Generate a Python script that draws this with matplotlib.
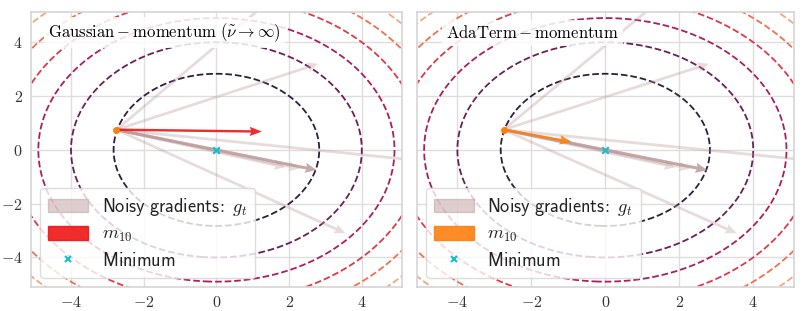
import numpy as np
import matplotlib
matplotlib.use("Agg")
import matplotlib.pyplot as plt
from matplotlib.patches import Patch
from matplotlib.lines import Line2D

plt.rcParams['mathtext.fontset'] = 'cm'

# starting point of all arrows
start = (-2.75, 0.75)

# end points of the noisy gradient arrows (same samples in both panels)
grad_end_x = [2.3, 2.8, 9.0, 2.75, 2.75, 2.75, 1.9, 2.3, 3.55, 2.75]
grad_end_y = [6.5, 3.2, -0.87, -0.75, -0.75, -0.75, -0.65, -0.7, -3.1, -0.75]

# end points of the momentum m_10 for each method
titles = [r'$\mathrm{Gaussian} - \mathrm{momentum}\ (\tilde{\nu} \rightarrow \infty)$',
          r'$\mathrm{AdaTerm} - \mathrm{momentum}$']
mom_end_x = [1.25, -0.9]
mom_end_y = [0.68, 0.29]
mom_colors = ['#f01515', '#ff7f0e']
title_x = [-4.63, -4.3]

# contour levels of the quadratic loss x^2 + y^2
levels = [8, 16, 24, 32, 40, 48]
level_colors = ['#2f1f3d', '#6a1f58', '#aa1f5e', '#dc3a48', '#ef7150', '#f4a67f']

ticks = [-4, -2, 0, 2, 4]
grad_color = '#b89494'

fig = plt.figure(figsize=(8.06, 3.11), dpi=100)
positions = [[0.0385, 0.077, 0.46, 0.884], [0.517, 0.077, 0.468, 0.884]]

gx = np.linspace(-7, 7, 400)
X, Y = np.meshgrid(gx, gx)
Z = X**2 + Y**2

for i in range(2):
    ax = fig.add_axes(positions[i])
    ax.set_xlim(-5.1, 5.1)
    ax.set_ylim(-5.1, 5.12)
    ax.set_xticks(ticks, [f'${t}$' for t in ticks], fontsize=11.5, color='#333333')
    if i == 0:
        ax.set_yticks(ticks, [f'${t}$' for t in ticks], fontsize=11.5, color='#333333')
    else:
        ax.set_yticks(ticks, [])
    ax.tick_params(length=0, pad=6)
    ax.grid(color='#dedede', lw=1.0, zorder=0)
    ax.set_axisbelow(True)
    for s in ax.spines.values():
        s.set_color('#d5d5d5')
        s.set_linewidth(1.2)

    ax.contour(X, Y, Z, levels=levels, colors=level_colors,
               linestyles='dashed', linewidths=1.3, zorder=1)

    sx = np.full(len(grad_end_x), start[0])
    sy = np.full(len(grad_end_y), start[1])
    ax.quiver(sx, sy, np.array(grad_end_x) - sx, np.array(grad_end_y) - sy,
              angles='xy', scale_units='xy', scale=1, color=grad_color, alpha=0.33,
              width=0.0075, headwidth=3.5, headlength=4, headaxislength=3.5, zorder=2)
    ax.quiver([start[0]], [start[1]], [mom_end_x[i] - start[0]], [mom_end_y[i] - start[1]],
              angles='xy', scale_units='xy', scale=1, color=mom_colors[i], alpha=0.9,
              width=0.0065, headwidth=3.8, headlength=5, headaxislength=4.5, zorder=3)
    ax.plot([start[0]], [start[1]], 'o', color='#ff7f0e', ms=4, zorder=4)
    ax.scatter([0], [0], marker='x', color='tab:cyan', s=22, lw=1.6, zorder=4)

    ax.text(title_x[i], 4.35, titles[i], fontsize=12, va='center', ha='left', zorder=5,
            bbox=dict(boxstyle='square,pad=0.25', fc='white', ec='none', alpha=0.85))

    handles = [Patch(color=grad_color, alpha=0.45),
               Patch(color=mom_colors[i], alpha=0.9),
               Line2D([], [], marker='x', ls='none', color='tab:cyan', ms=5, mew=1.5)]
    labels = [r'$\mathsf{Noisy\ gradients\!:}\ g_t$', r'$m_{10}$', r'$\mathsf{Minimum}$']
    leg = ax.legend(handles, labels, loc='lower left', fontsize=13.2, framealpha=0.8,
                    edgecolor='#d5d5d5', handlelength=2.15, handleheight=0.75,
                    handletextpad=0.75, labelspacing=0.4, borderpad=0.45, fancybox=True)
    leg.set_zorder(6)
    for t in leg.get_texts():
        t.set_color('#222222')

fig.savefig('out.png', dpi=100)
